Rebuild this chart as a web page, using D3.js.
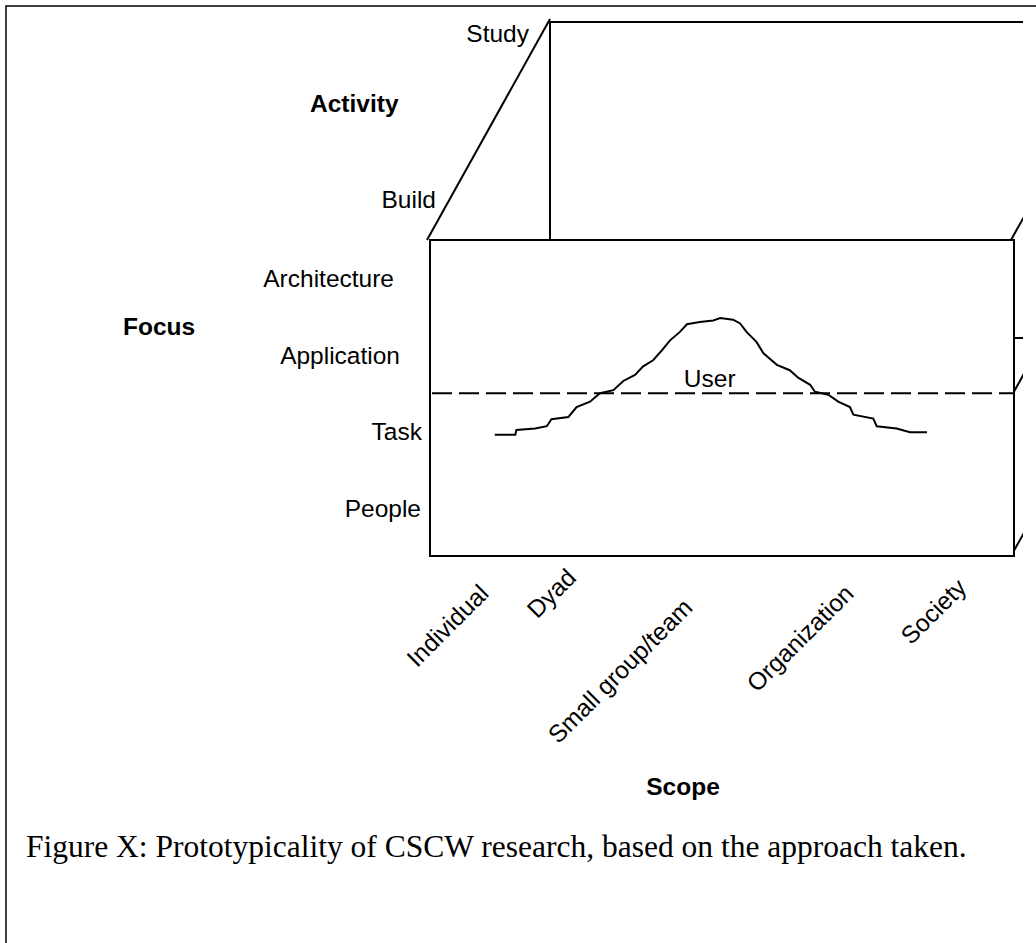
<!DOCTYPE html>
<head>
    <meta charset="utf-8">
    <style>
        body { margin: 0; background: #fff; }
        text { font-family: "Liberation Sans", Arial, sans-serif; fill: #000; }
        .lbl { font-size: 24.5px; }
        .ttl { font-size: 24.5px; font-weight: bold; }
        .caption { font-family: "Liberation Serif", "Times New Roman", serif; font-size: 31.5px; }
        .edge { stroke: #000; stroke-width: 2; fill: none; }
    </style>
</head>
<body>
    <script src="https://d3js.org/d3.v7.min.js"></script>
    <script>

        // categories on the three axes
        var scopeCategories = ["Individual", "Dyad", "Small group/team", "Organization", "Society"];
        var focusLevels = ["People", "Task", "Application", "Architecture"];
        var activityLevels = ["Build", "Study"];

        // prototypical curve: scope position (0-100) and focus level (People=0 .. Architecture=3)
        var curveScope = [11.1, 14.6, 14.8, 18.0, 20.0, 20.8, 23.7, 25.1, 27.4, 29.1, 31.4, 33.1, 35.1, 36.5,
                          38.2, 39.7, 41.1, 42.8, 44.0, 46.2, 48.5, 49.7, 51.9, 53.1, 54.2, 55.9, 57.1, 59.4,
                          61.6, 63.1, 65.1, 65.9, 68.2, 69.9, 71.9, 72.5, 75.9, 76.5, 79.9, 82.2, 85.1];
        var curveFocus = [0.97, 0.97, 1.03, 1.05, 1.08, 1.17, 1.20, 1.33, 1.40, 1.51, 1.55, 1.67, 1.75, 1.86,
                          1.94, 2.07, 2.20, 2.31, 2.41, 2.44, 2.46, 2.49, 2.47, 2.42, 2.31, 2.18, 2.03, 1.88,
                          1.81, 1.71, 1.62, 1.53, 1.49, 1.40, 1.33, 1.23, 1.18, 1.08, 1.05, 1.00, 1.00];

        // the "User" level line
        var userLabel = "User";
        var userLevel = 1.51;

        var axisTitles = { activity: "Activity", focus: "Focus", scope: "Scope" };
        var caption = "Figure X: Prototypicality of CSCW research, based on the approach taken.";

        // layout
        var W = 1036, H = 943;
        var box = { left: 430, right: 1014, top: 240, bottom: 556 };
        var clipRight = 1023;
        // hand placed label offsets, as in the original
        var focusLabelDx = [-9, -8, -30, -36];
        var scopeLabelAt = [10.3, 25.3, 45.2, 72.8, 92.1];
        var scopeLabelDy = [39, 23, 53, 39, 33];

        // scales
        var x = d3.scaleLinear().domain([0, 100]).range([box.left, box.right]);
        var y = d3.scaleLinear().domain([0, focusLevels.length - 1]).range([509, 279]);
        var depthX = d3.scalePoint().domain(activityLevels).range([0, 120]);
        var depthY = d3.scalePoint().domain(activityLevels).range([0, -218]);

        var svg = d3.select("body").append("svg")
            .attr("width", W)
            .attr("height", H);

        svg.append("rect").attr("width", W).attr("height", H).attr("fill", "#fff");

        // outer frame (only top and left are in view)
        svg.append("path")
            .attr("d", "M6," + H + "V6H" + W)
            .attr("stroke", "#000")
            .attr("stroke-width", 1.5)
            .attr("fill", "none");

        svg.append("clipPath").attr("id", "cut")
            .append("rect").attr("x", 0).attr("y", 0).attr("width", clipRight).attr("height", H);

        var g = svg.append("g").attr("clip-path", "url(#cut)");

        var dx = depthX("Study"), dy = depthY("Study");

        // back panel (Study)
        g.append("rect")
            .attr("class", "edge")
            .attr("x", box.left + dx)
            .attr("y", box.top + dy)
            .attr("width", box.right - box.left)
            .attr("height", box.bottom - box.top);

        // depth edges (the bottom-left one is hidden behind the front panel)
        var corners = [[box.left, box.top], [box.right, box.top], [box.right, box.bottom]];
        g.selectAll("line.depth")
            .data(corners)
            .enter().append("line")
            .attr("class", "edge depth")
            .attr("x1", function(d) { return d[0] - 3; })
            .attr("y1", function(d) { return d[1]; })
            .attr("x2", function(d) { return d[0] + dx; })
            .attr("y2", function(d) { return d[1] + dy - 3; });

        // user plane edge going back
        var uy = y(userLevel);
        g.append("line")
            .attr("class", "edge")
            .attr("x1", box.right - 2)
            .attr("y1", uy + 2)
            .attr("x2", box.right + dx)
            .attr("y2", uy + dy);

        // front panel (Build)
        g.append("rect")
            .attr("x", box.left)
            .attr("y", box.top)
            .attr("width", box.right - box.left)
            .attr("height", box.bottom - box.top)
            .attr("class", "edge")
            .style("fill", "#fff");

        // dashed user line
        g.append("line")
            .attr("class", "edge")
            .attr("x1", box.left + 2)
            .attr("x2", box.right)
            .attr("y1", uy)
            .attr("y2", uy)
            .attr("stroke-dasharray", "20,7");

        g.append("text")
            .attr("class", "lbl")
            .attr("x", x(47.9))
            .attr("y", uy - 6)
            .attr("text-anchor", "middle")
            .text(userLabel);

        // the curve
        var pts = curveScope.map(function(s, i) { return { s: s, f: curveFocus[i] }; });
        var line = d3.line()
            .x(function(d) { return x(d.s); })
            .y(function(d) { return y(d.f); });
        g.append("path")
            .datum(pts)
            .attr("class", "edge")
            .attr("d", line);

        // focus labels
        g.selectAll("text.focus")
            .data(focusLevels)
            .enter().append("text")
            .attr("class", "lbl focus")
            .attr("text-anchor", "end")
            .attr("x", function(d, i) { return box.left + focusLabelDx[i]; })
            .attr("y", function(d, i) { return y(i) + 8; })
            .text(function(d) { return d; });

        // scope labels
        g.selectAll("text.scope")
            .data(scopeCategories)
            .enter().append("text")
            .attr("class", "lbl scope")
            .attr("text-anchor", "end")
            .attr("transform", function(d, i) {
                return "translate(" + x(scopeLabelAt[i]) + "," + (box.bottom + scopeLabelDy[i]) + ") rotate(-45)";
            })
            .text(function(d) { return d; });

        // activity labels
        g.append("text").attr("class", "lbl").attr("text-anchor", "end")
            .attr("x", box.left + 6).attr("y", box.top - 32).text(activityLevels[0]);
        g.append("text").attr("class", "lbl").attr("text-anchor", "end")
            .attr("x", box.left + dx - 21).attr("y", box.top + dy + 20).text(activityLevels[1]);

        // axis titles
        g.append("text").attr("class", "ttl").attr("x", 310).attr("y", 112).text(axisTitles.activity);
        g.append("text").attr("class", "ttl").attr("x", 123).attr("y", 335).text(axisTitles.focus);
        g.append("text").attr("class", "ttl").attr("text-anchor", "middle")
            .attr("x", 683).attr("y", 795).text(axisTitles.scope);

        // caption
        svg.append("text")
            .attr("class", "caption")
            .attr("x", 26)
            .attr("y", 857)
            .text(caption);

    </script>
</body>
